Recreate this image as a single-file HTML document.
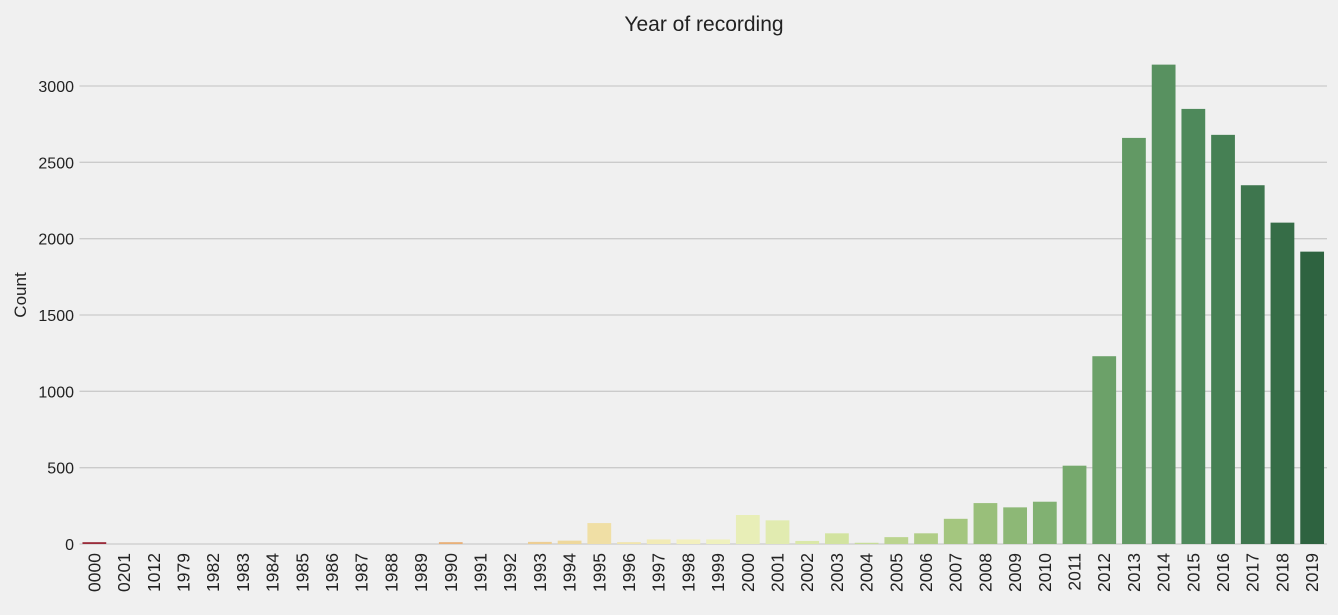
<!DOCTYPE html>
<html><head><meta charset="utf-8"><style>
body{margin:0;background:#f0f0f0;}
svg text{font-family:"Liberation Sans","DejaVu Sans",sans-serif;fill:#222;}
</style></head><body>
<svg id="chart" width="1338" height="610" xmlns="http://www.w3.org/2000/svg">
<rect width="1338" height="610" fill="#f0f0f0"/>
<text x="704" y="31" font-size="21" text-anchor="middle">Year of recording</text>
<text transform="translate(26,295) rotate(-90)" font-size="17" text-anchor="middle">Count</text>
<g id="grid"></g><g id="bars"></g><g id="xt"></g><g id="yt"></g>
</svg>
<script>
const categories=["0000","0201","1012","1979","1982","1983","1984","1985","1986","1987","1988","1989","1990","1991","1992","1993","1994","1995","1996","1997","1998","1999","2000","2001","2002","2003","2004","2005","2006","2007","2008","2009","2010","2011","2012","2013","2014","2015","2016","2017","2018","2019"];
const counts=[12,0,0,0,0,0,0,0,0,0,0,0,12,0,0,14,22,137,12,30,30,30,190,155,20,70,8,45,70,165,268,240,277,513,1230,2660,3140,2850,2680,2350,2105,1915];
const yTicks=[0,500,1000,1500,2000,2500,3000];
const stops=["#9a2c3a","#c0463e","#dd7a58","#e9b47c","#efdca0","#f3f3c2","#d6e6a4","#a8c880","#78ab6e","#4f8a5c","#2e6340"];
const NS="http://www.w3.org/2000/svg";
const left=79.5,right=1327,y0=544,yScale=(544-86)/3000;
const step=(right-left)/categories.length;
const xPos=i=>left+step*(i+0.5);
const yPos=v=>y0-v*yScale;
function hex(c){return [1,3,5].map(k=>parseInt(c.substr(k,2),16));}
function color(i){const t=i/(categories.length-1)*(stops.length-1);const a=Math.floor(t),b=Math.min(a+1,stops.length-1),f=t-a;const A=hex(stops[a]),B=hex(stops[b]);return "rgb("+A.map((v,k)=>Math.round(v+(B[k]-v)*f)).join(",")+")";}
function mk(tag,attrs,parent){const e=document.createElementNS(NS,tag);for(const k in attrs)e.setAttribute(k,attrs[k]);document.getElementById(parent).appendChild(e);return e;}
yTicks.forEach(v=>{
 const l=mk("line",{x1:left,x2:right,y1:yPos(v),y2:yPos(v),stroke:"#cbcbcb","stroke-width":1.3},"grid");
 
 
 const t=mk("text",{x:74,y:yPos(v)+6,"font-size":16,"text-anchor":"end"},"yt");
 t.textContent=v;
 
 
});
categories.forEach((c,i)=>{
 const w=step*0.8,h=Math.max(counts[i]*yScale,0);
 const r=mk("rect",{x:xPos(i)-w/2,y:yPos(counts[i]),width:w,height:h,fill:color(i)},"bars");
 
 
 const t=mk("text",{transform:"translate("+(xPos(i)+6)+",553) rotate(-90)","font-size":17.5,"text-anchor":"end"},"xt");
 t.textContent=c;
 
 
});
</script>
</body></html>
